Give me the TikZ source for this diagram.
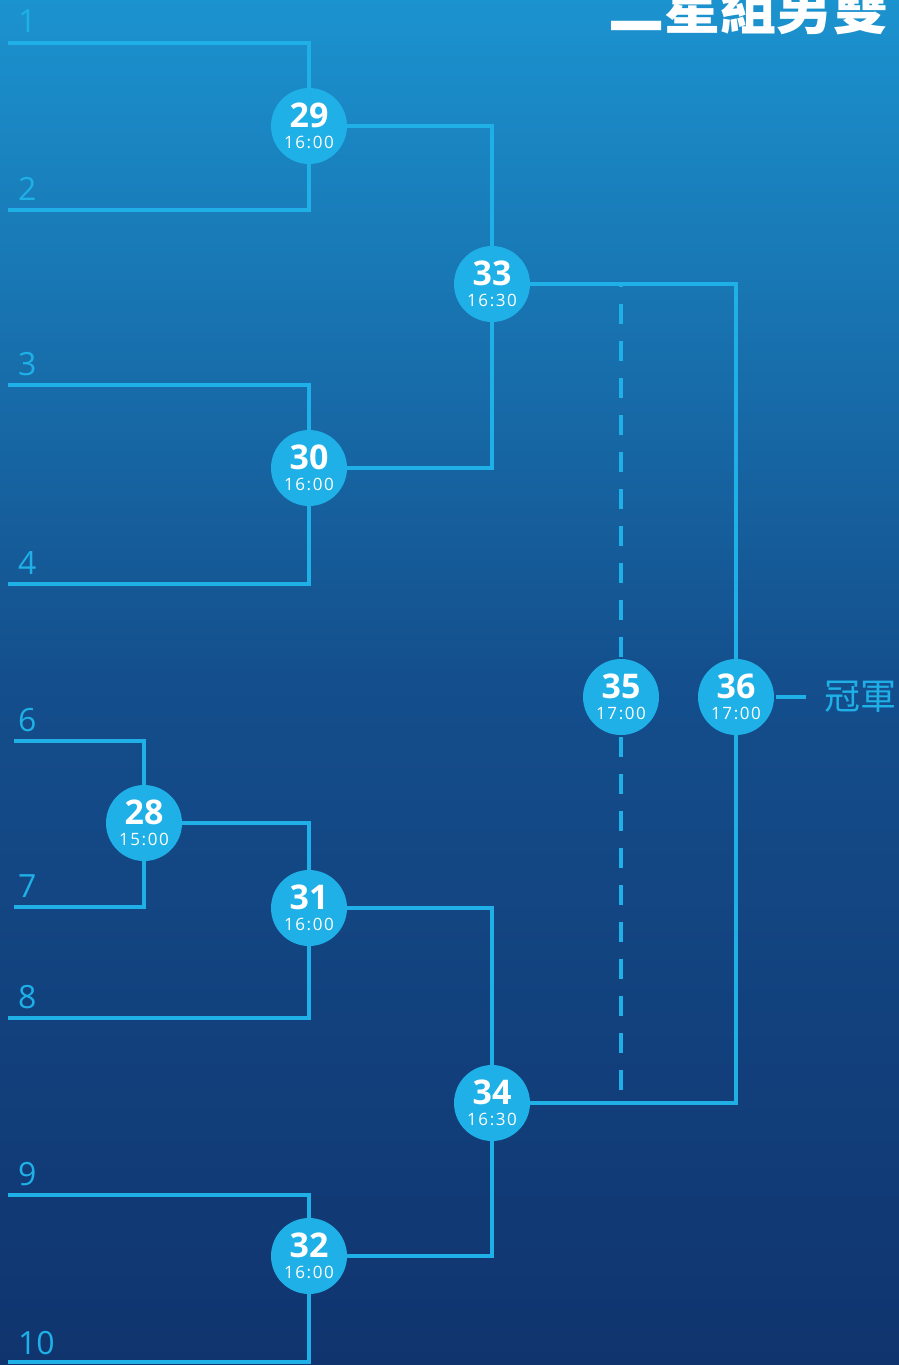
\documentclass[tikz,border=0pt]{standalone}
\usepackage{fontspec}
\setmainfont{Open Sans}
\newfontfamily\cjk{Noto Sans CJK TC}
\definecolor{linecyan}{RGB}{30,176,230}
\definecolor{bgtop}{RGB}{27,147,207}
\definecolor{bgmid}{RGB}{20,78,140}
\definecolor{bgbot}{RGB}{16,52,110}
\newcommand\matchtext[2]{{\fontsize{34}{34}\selectfont\bfseries #1}\\{\addfontfeature{LetterSpace=9}#2}}

\begin{document}
\begin{tikzpicture}[x=1pt,y=-1pt,line width=4pt,line cap=rect]
\tikzset{match/.style = {circle,fill=linecyan,text=white,
                         minimum size=76pt,inner sep=0pt,
                         align=center,font=\fontsize{17}{21}\selectfont},
         seed/.style = {text=linecyan,font=\fontsize{32}{32}\selectfont,
                        anchor=base west,inner sep=0pt},
         wire/.style = {draw=linecyan}}
% background
\shade[top color=bgtop,bottom color=bgbot,middle color=bgmid,draw=none]
  (0,0) rectangle (899,1365);
\useasboundingbox (0,0) rectangle (899,1365);
\node[anchor=base east,text=white,inner sep=0pt,
      font=\cjk\bfseries\fontsize{56}{56}\selectfont] (title) at (890,29) {二星組男雙};

% matches
\node[match] (m29) at (309,126)  {\matchtext{29}{16:00}};
\node[match] (m30) at (309,468)  {\matchtext{30}{16:00}};
\node[match] (m28) at (144,823)  {\matchtext{28}{15:00}};
\node[match] (m31) at (309,908)  {\matchtext{31}{16:00}};
\node[match] (m32) at (309,1256) {\matchtext{32}{16:00}};
\node[match] (m33) at (492,284)  {\matchtext{33}{16:30}};
\node[match] (m34) at (492,1103) {\matchtext{34}{16:30}};
\node[match] (m35) at (621,697)  {\matchtext{35}{17:00}};
\node[match] (m36) at (736,697)  {\matchtext{36}{17:00}};

% seeds
\coordinate (e1) at (10,43);    \node[seed] (s1) at (16,32) {1};
\coordinate (e2) at (10,210);   \node[seed] (s2) at (16,200) {2};
\coordinate (e3) at (10,385);   \node[seed] (s3) at (16,375) {3};
\coordinate (e4) at (10,584);   \node[seed] (s4) at (16,574) {4};
\coordinate (e6) at (16,741);   \node[seed] (s6) at (16,731) {6};
\coordinate (e7) at (16,907);   \node[seed] (s7) at (16,897) {7};
\coordinate (e8) at (10,1018);  \node[seed] (s8) at (16,1008) {8};
\coordinate (e9) at (10,1195);  \node[seed] (s9) at (16,1185) {9};
\coordinate (e10) at (10,1362); \node[seed] (s10) at (16,1354) {10};

\draw[wire] (e1) -| (m29);  \draw[wire] (e2) -| (m29);
\draw[wire] (e3) -| (m30);  \draw[wire] (e4) -| (m30);
\draw[wire] (e6) -| (m28);  \draw[wire] (e7) -| (m28);
\draw[wire] (e8) -| (m31);
\draw[wire] (e9) -| (m32);  \draw[wire] (e10) -| (m32);
\draw[wire] (m29) -| (m33); \draw[wire] (m30) -| (m33);
\draw[wire] (m28) -| (m31);
\draw[wire] (m31) -| (m34); \draw[wire] (m32) -| (m34);
\draw[wire] (m33) -| (m36); \draw[wire] (m34) -| (m36);
\draw[wire,line cap=butt,dash pattern=on 20pt off 17pt] (m35) -- (m35 |- m33);
\draw[wire,line cap=butt,dash pattern=on 20pt off 17pt] (m35) -- (m35 |- m34);

% champion
\coordinate (c36) at (806,697);
\draw[wire,line cap=butt] (m36) -- (c36);
\node[text=linecyan,anchor=west,inner sep=0pt,
      font=\cjk\fontsize{36}{36}\selectfont] (champ) at (822,697) {冠軍};
\end{tikzpicture}
\end{document}
